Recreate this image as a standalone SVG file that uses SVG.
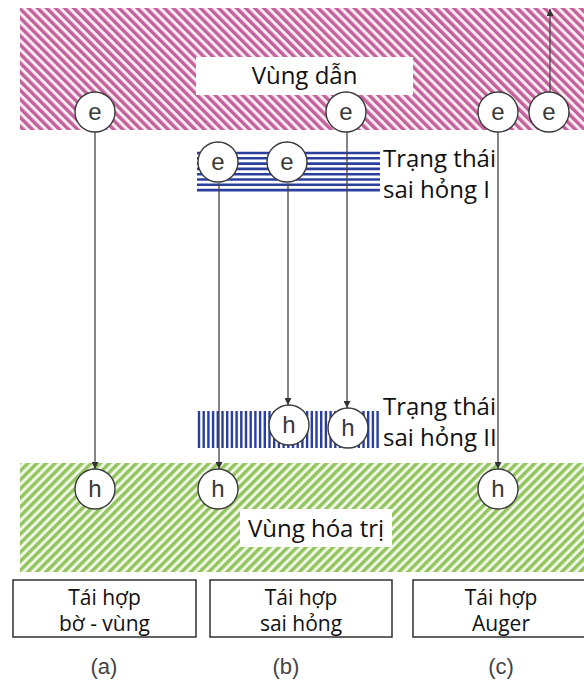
<svg xmlns="http://www.w3.org/2000/svg" width="584" height="692" viewBox="0 0 584 692">
<style>
.t{font-family:"Open Sans","Noto Sans","DejaVu Sans",sans-serif;fill:#111;}
.big{font-size:24px;}
.box{font-size:21px;text-anchor:middle;}
.lab{font-family:"Liberation Sans",Arial,sans-serif;font-size:22px;fill:#444;text-anchor:middle;}
.p{fill:#fff;stroke:#3a3a3a;stroke-width:1.4;}
.pl{font-family:"Liberation Sans",Arial,sans-serif;font-size:24px;fill:#3a3a3a;text-anchor:middle;}
.c{stroke:#444;stroke-width:1.3;fill:none;marker-end:url(#ah);}
.hb{stroke:#2b3f9e;stroke-width:2.6;}
.vb{stroke:#2b3f9e;stroke-width:2.4;}
.bx{fill:#fff;stroke:#222;stroke-width:1.4;}
</style>
<defs>
<pattern id="pink" patternUnits="userSpaceOnUse" width="6.4" height="20" patternTransform="rotate(-45)">
<rect width="6.4" height="20" fill="#f7ecf2"/>
<rect width="3.4" height="20" fill="#c4609a"/>
</pattern>
<pattern id="green" patternUnits="userSpaceOnUse" width="6.4" height="20" patternTransform="rotate(45)">
<rect width="6.4" height="20" fill="#f0f7e8"/>
<rect width="3.4" height="20" fill="#93c45e"/>
</pattern>
<marker id="ah" viewBox="0 0 10 10" refX="10" refY="5" markerWidth="7" markerHeight="7" markerUnits="userSpaceOnUse" orient="auto">
<path d="M0,0 L10,5 L0,10 z" fill="#333"/>
</marker>
</defs>
<rect width="584" height="692" fill="#fff"/>

<g id="conduction-band">
<rect x="20" y="8" width="564" height="122" fill="url(#pink)"/>
<rect x="196" y="57" width="217" height="38" fill="#fff"/>
<text class="t big" x="304.5" y="84" text-anchor="middle">Vùng dẫn</text>
</g>

<g id="valence-band">
<rect x="20" y="463" width="564" height="109" fill="url(#green)"/>
<rect x="240" y="509" width="152" height="38" fill="#fff"/>
<text class="t big" x="316" y="537" text-anchor="middle">Vùng hóa trị</text>
</g>

<g id="defect-state-1">
<g class="hb">
<line x1="197" y1="153" x2="380" y2="153"/>
<line x1="197" y1="158.3" x2="380" y2="158.3"/>
<line x1="197" y1="163.6" x2="380" y2="163.6"/>
<line x1="197" y1="168.9" x2="380" y2="168.9"/>
<line x1="197" y1="174.2" x2="380" y2="174.2"/>
<line x1="197" y1="179.5" x2="380" y2="179.5"/>
<line x1="197" y1="184.8" x2="380" y2="184.8"/>
<line x1="197" y1="190.1" x2="380" y2="190.1"/>
</g>
<text class="t big" x="383" y="167">Trạng thái</text>
<text class="t big" x="383" y="198">sai hỏng I</text>
</g>

<g id="defect-state-2">
<path class="vb" d="M199,411V448M203.7,411V448M208.4,411V448M213.1,411V448M217.8,411V448M222.5,411V448M227.2,411V448M231.9,411V448M236.6,411V448M241.3,411V448M246,411V448M250.7,411V448M255.4,411V448M260.1,411V448M264.8,411V448M269.5,411V448M274.2,411V448M278.9,411V448M283.6,411V448M288.3,411V448M293,411V448M297.7,411V448M302.4,411V448M307.1,411V448M311.8,411V448M316.5,411V448M321.2,411V448M325.9,411V448M330.6,411V448M335.3,411V448M340,411V448M344.7,411V448M349.4,411V448M354.1,411V448M358.8,411V448M363.5,411V448M368.2,411V448M372.9,411V448M377.6,411V448"/>
<text class="t big" x="383" y="415">Trạng thái</text>
<text class="t big" x="383" y="446">sai hỏng II</text>
</g>

<g id="connectors">
<line class="c" x1="95" y1="132" x2="95" y2="469"/>
<line class="c" x1="219" y1="183" x2="219" y2="469"/>
<line class="c" x1="288" y1="183" x2="288" y2="405"/>
<line class="c" x1="347" y1="132" x2="347" y2="408"/>
<line class="c" x1="498" y1="132" x2="498" y2="469"/>
<line class="c" x1="550" y1="92" x2="550" y2="9"/>
</g>

<g id="e-a"><circle class="p" cx="95" cy="112" r="20"/><text class="pl" x="95" y="120">e</text></g>
<g id="e-b3"><circle class="p" cx="346" cy="112" r="20"/><text class="pl" x="346" y="120">e</text></g>
<g id="e-c1"><circle class="p" cx="498" cy="112" r="20"/><text class="pl" x="498" y="120">e</text></g>
<g id="e-c2"><circle class="p" cx="549" cy="112" r="20"/><text class="pl" x="549" y="120">e</text></g>
<g id="e-b1"><circle class="p" cx="218" cy="162" r="20"/><text class="pl" x="218" y="170">e</text></g>
<g id="e-b2"><circle class="p" cx="287" cy="162" r="20"/><text class="pl" x="287" y="170">e</text></g>

<g id="h-b2"><circle class="p" cx="289" cy="425" r="20"/><text class="pl" x="289" y="433">h</text></g>
<g id="h-b3"><circle class="p" cx="348" cy="428" r="20"/><text class="pl" x="348" y="436">h</text></g>
<g id="h-a"><circle class="p" cx="95" cy="489" r="20"/><text class="pl" x="95" y="497">h</text></g>
<g id="h-b1"><circle class="p" cx="218" cy="489" r="20"/><text class="pl" x="218" y="497">h</text></g>
<g id="h-c"><circle class="p" cx="498" cy="489" r="20"/><text class="pl" x="498" y="497">h</text></g>

<g id="box-a">
<rect class="bx" x="13" y="580" width="183" height="57"/>
<text class="t box" x="104.5" y="605">Tái hợp</text>
<text class="t box" x="104.5" y="631">bờ - vùng</text>
</g>
<g id="box-b">
<rect class="bx" x="210" y="580" width="182" height="57"/>
<text class="t box" x="301" y="605">Tái hợp</text>
<text class="t box" x="301" y="631">sai hỏng</text>
</g>
<g id="box-c">
<rect class="bx" x="413" y="580" width="176" height="57"/>
<text class="t box" x="501" y="605">Tái hợp</text>
<text class="t box" x="501" y="631">Auger</text>
</g>

<g id="labels">
<text class="lab" x="104" y="674">(a)</text>
<text class="lab" x="286" y="674">(b)</text>
<text class="lab" x="501" y="674">(c)</text>
</g>
</svg>
